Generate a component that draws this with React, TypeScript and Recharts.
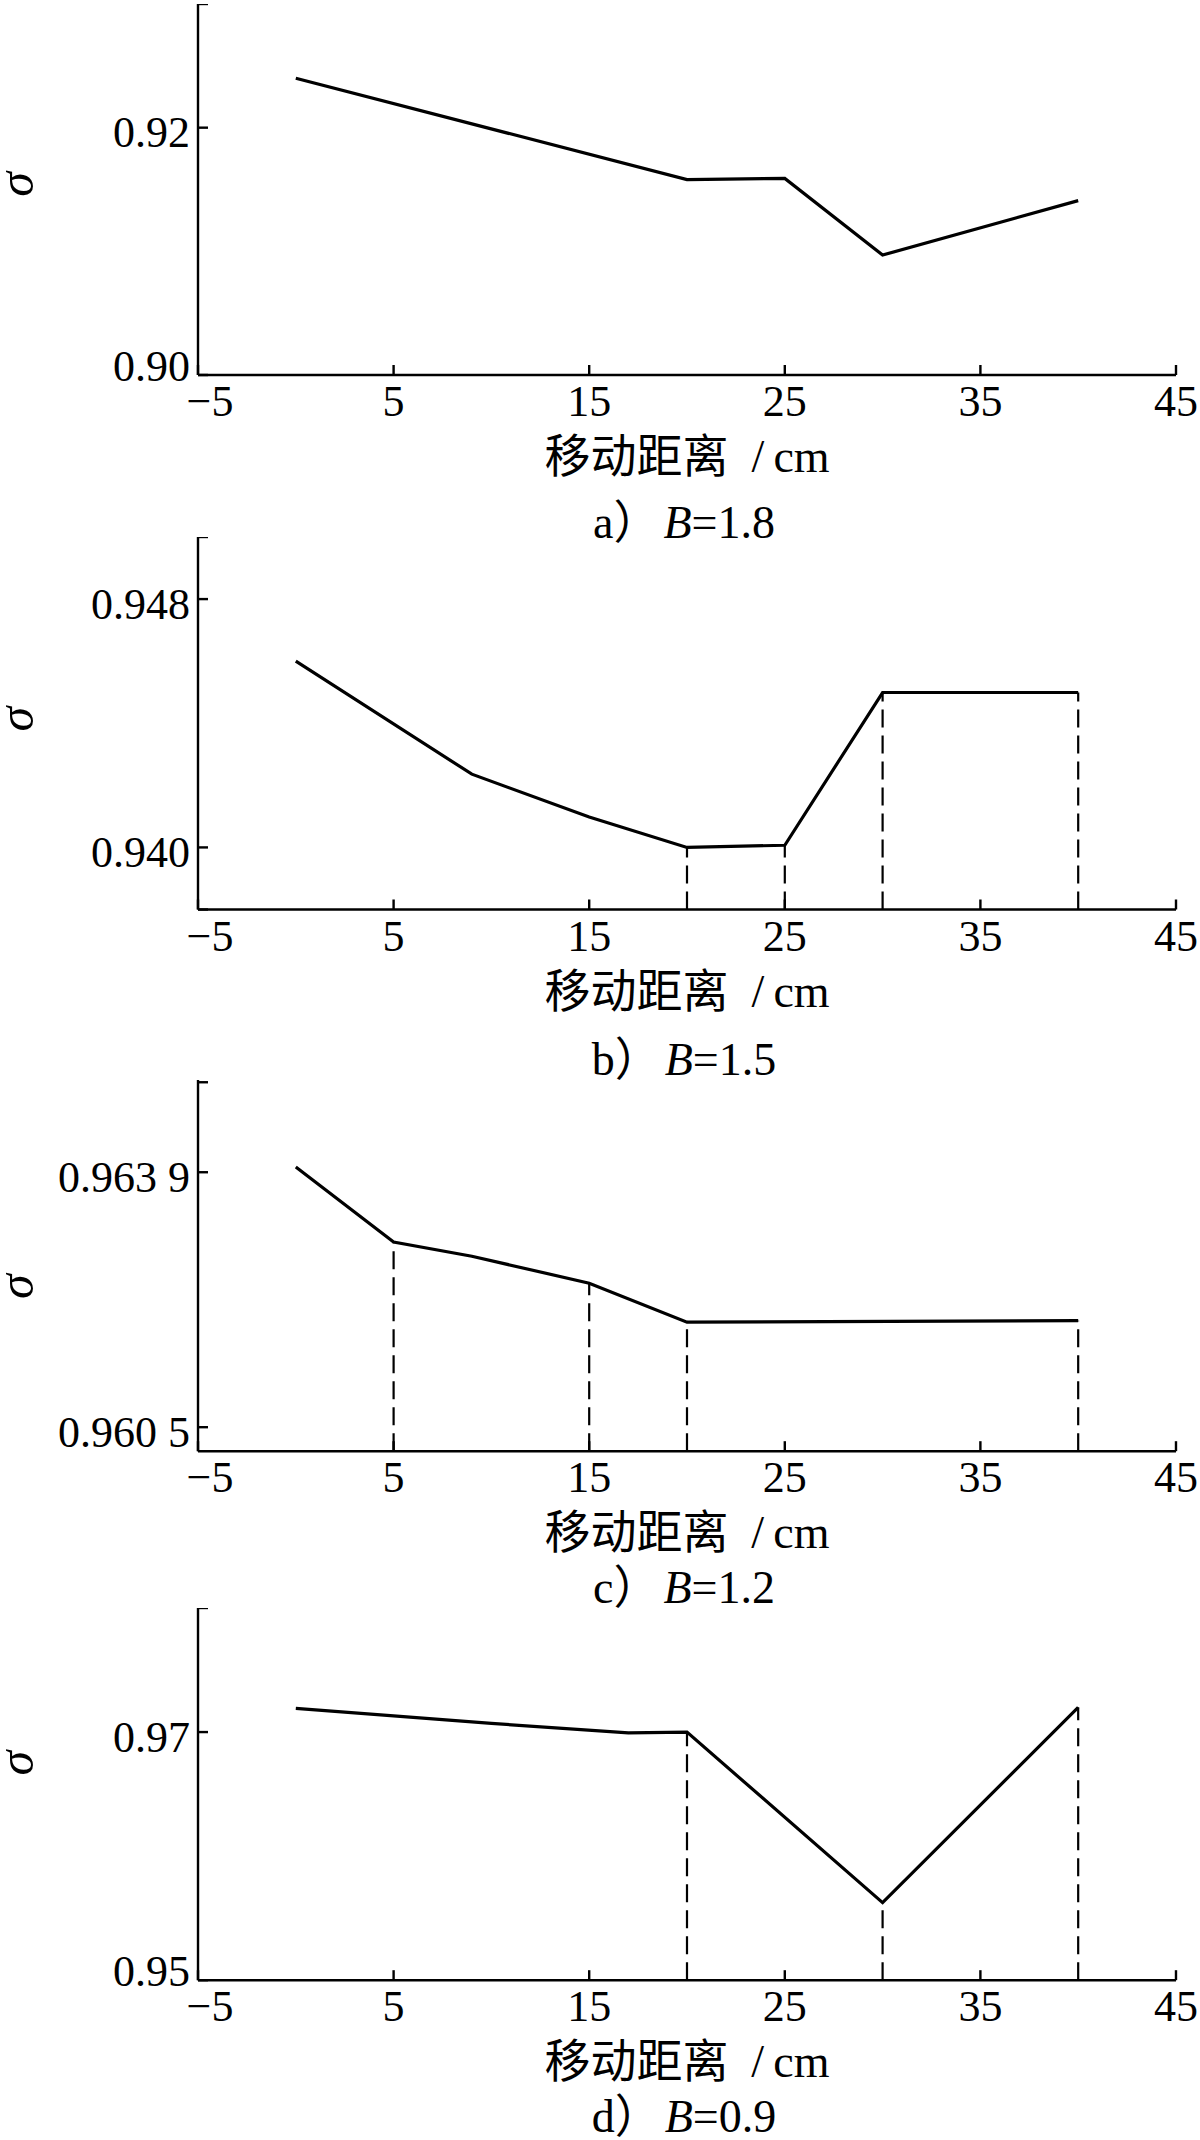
import { LineChart, Line, XAxis, YAxis, ReferenceLine, Label } from 'recharts';

const serif = "'Liberation Serif', 'Noto Sans CJK SC', serif";

// shared x axis (移动距离 / cm)
const xTicks = [-5, 5, 15, 25, 35, 45];

// a) B=1.8
const distA = [0, 20, 25, 30, 40];
const sigmaA = [0.924, 0.9158, 0.9159, 0.9097, 0.9141];
const dropsA: number[] = [];
const yTicksA = [0.9, 0.92, 0.93];
const yLabelsA = ['0.90', '0.92', ''];

// b) B=1.5
const distB = [0, 9, 15, 20, 25, 30, 40];
const sigmaB = [0.946, 0.94236, 0.94098, 0.94, 0.94007, 0.94499, 0.94499];
const dropsB = [20, 25, 30, 40];
const yTicksB = [0.938, 0.94, 0.948, 0.95];
const yLabelsB = ['', '0.940', '0.948', ''];

// c) B=1.2
const distC = [0, 5, 9, 15, 20, 40];
const sigmaC = [0.96397, 0.96297, 0.96278, 0.96242, 0.9619, 0.96192];
const dropsC = [5, 15, 20, 40];
const yTicksC = [0.9605, 0.9639, 0.9651];
const yLabelsC = ['0.960 5', '0.963 9', ''];

// d) B=0.9
const distD = [0, 10, 17, 20, 30, 40];
const sigmaD = [0.97191, 0.9707, 0.96993, 0.97, 0.95625, 0.97199];
const dropsD = [20, 30, 40];
const yTicksD = [0.95, 0.97, 0.98];
const yLabelsD = ['0.95', '0.97', ''];

interface PanelCfg {
  dist: number[];
  sigma: number[];
  drops: number[];
  domain: [number, number];
  ticks: number[];
  labels: string[];
  tag: string;
  b: string;
  top: number;
  plotH: number;
  sigmaShift: number;
  captionOffset: number;
}

const panels: PanelCfg[] = [
  { dist: distA, sigma: sigmaA, drops: dropsA, domain: [0.9, 0.93], ticks: yTicksA, labels: yLabelsA, tag: 'a', b: '1.8', top: 4, plotH: 371, sigmaShift: -5, captionOffset: 163 },
  { dist: distB, sigma: sigmaB, drops: dropsB, domain: [0.938, 0.95], ticks: yTicksB, labels: yLabelsB, tag: 'b', b: '1.5', top: 536.5, plotH: 372.5, sigmaShift: -4, captionOffset: 166 },
  { dist: distC, sigma: sigmaC, drops: dropsC, domain: [0.96018, 0.96513], ticks: yTicksC, labels: yLabelsC, tag: 'c', b: '1.2', top: 1079.6, plotH: 371.2, sigmaShift: 21, captionOffset: 152 },
  { dist: distD, sigma: sigmaD, drops: dropsD, domain: [0.95, 0.98], ticks: yTicksD, labels: yLabelsD, tag: 'd', b: '0.9', top: 1607.6, plotH: 372.2, sigmaShift: -31, captionOffset: 152 },
];

const X_AXIS_H = 110;

// x tick: the minus of "−5" hangs to the left, so the label sits a bit right
function XTick(props: any) {
  const { x, y, payload } = props;
  const v = payload.value as number;
  const text = v < 0 ? '\u2212' + Math.abs(v) : String(v);
  return (
    <text x={x + (v < 0 ? 12 : 0)} y={y} dy="0.71em" textAnchor="middle" fontFamily={serif} fontSize={44} fill="#000">
      {text}
    </text>
  );
}

function Panel({ cfg }: { cfg: PanelCfg }) {
  const data = cfg.dist.map((d, i) => ({ dist: d, sigma: cfg.sigma[i] }));
  const chartH = cfg.plotH + X_AXIS_H;

  const labelIndex = (v: number) => {
    let best = 0;
    cfg.ticks.forEach((t, i) => {
      if (Math.abs(t - v) < Math.abs(cfg.ticks[best] - v)) best = i;
    });
    return best;
  };

  const YTick = (props: any) => {
    const { x, y, payload } = props;
    const i = labelIndex(payload.value);
    const atBottom = Math.abs(payload.value - cfg.domain[0]) < 1e-9;
    return (
      <text
        x={x}
        y={y + (atBottom ? -10 : 4)}
        dy="0.355em"
        textAnchor="end"
        fontFamily={serif}
        fontSize={44}
        fill="#000"
      >
        {cfg.labels[i]}
      </text>
    );
  };

  const sigmaLabel = (props: any) => {
    const vb = props.viewBox || {};
    const cx = 16;
    const cy = (vb.y ?? 0) + (vb.height ?? 0) / 2 + cfg.sigmaShift;
    return (
      <text
        x={cx}
        y={cy}
        transform={`rotate(-90, ${cx}, ${cy})`}
        textAnchor="middle"
        dominantBaseline="central"
        fontFamily={serif}
        fontStyle="italic"
        fontSize={50}
        fill="#000"
      >
        σ
      </text>
    );
  };

  return (
    <div style={{ position: 'absolute', left: 0, top: cfg.top, width: 1200, height: chartH + 80 }}>
      <LineChart width={1200} height={chartH} data={data} margin={{ top: 0, right: 24, bottom: 0, left: 0 }}>
        <XAxis
          dataKey="dist"
          type="number"
          domain={[-5, 45]}
          ticks={xTicks}
          height={X_AXIS_H}
          stroke="#000"
          strokeWidth={2.4}
          tickSize={-10}
          tickMargin={20}
          tick={XTick}
        >
          <Label
            value={'移动距离\u2002/\u2009cm'}
            position="insideBottom"
            offset={X_AXIS_H - 97}
            fill="#000"
            fontSize={46}
            fontFamily={serif}
          />
        </XAxis>
        <YAxis
          type="number"
          domain={cfg.domain}
          ticks={cfg.ticks}
          width={198}
          stroke="#000"
          strokeWidth={2.4}
          tickSize={-10}
          tickMargin={18}
          tick={YTick}
        >
          <Label content={sigmaLabel} />
        </YAxis>
        {cfg.drops.map((x) => (
          <ReferenceLine
            key={x}
            segment={[
              { x, y: cfg.domain[0] },
              { x, y: cfg.sigma[cfg.dist.indexOf(x)] },
            ]}
            stroke="#000"
            strokeWidth={2.2}
            strokeDasharray="18 8"
          />
        ))}
        <Line
          type="linear"
          dataKey="sigma"
          stroke="#000"
          strokeWidth={3.2}
          dot={false}
          isAnimationActive={false}
        />
      </LineChart>
      <svg
        width={1200}
        height={70}
        style={{ position: 'absolute', left: 0, top: cfg.plotH + cfg.captionOffset - 50 }}
      >
        <text x={684} y={50} textAnchor="middle" fontFamily={serif} fontSize={46} fill="#000">
          {cfg.tag}）
          <tspan dx={4} fontStyle="italic">B</tspan>
          <tspan>={cfg.b}</tspan>
        </text>
      </svg>
    </div>
  );
}

export default function App() {
  return (
    <div style={{ position: 'absolute', left: 0, top: 0, width: 1200, height: 2140, background: '#fff' }}>
      {panels.map((p) => (
        <Panel key={p.tag} cfg={p} />
      ))}
    </div>
  );
}
